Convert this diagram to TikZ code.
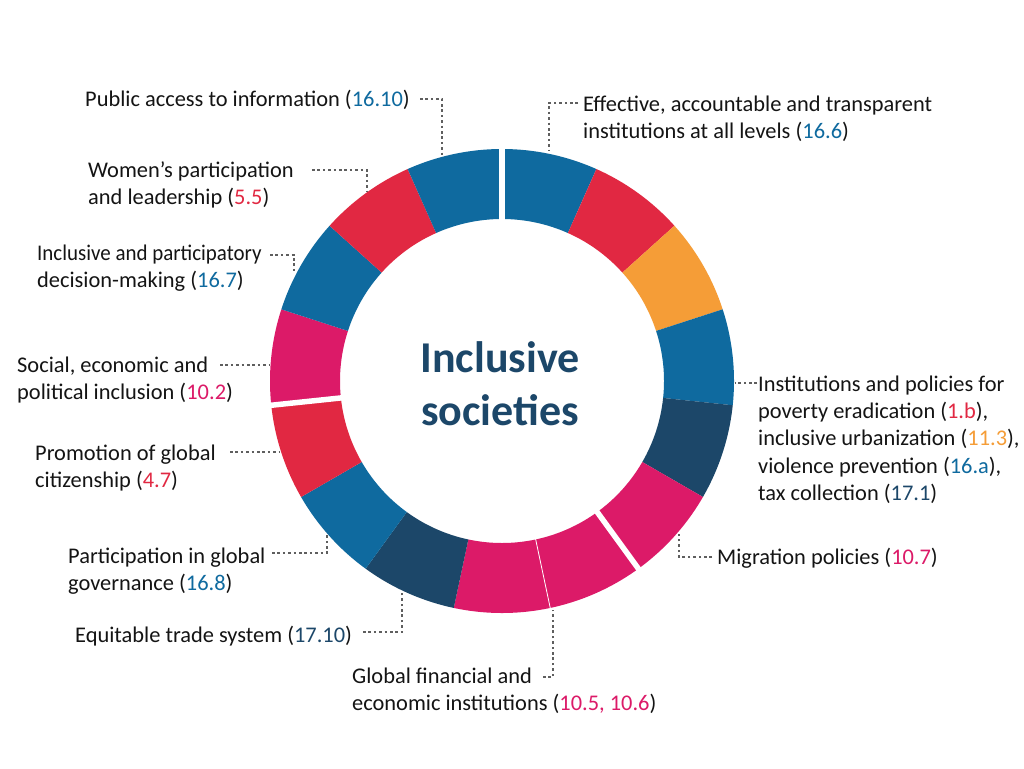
\documentclass[tikz,border=0pt]{standalone}
\usepackage{fontspec}
\setmainfont{Carlito}
\usepackage{graphicx}
\definecolor{sdgblue}{HTML}{0F6A9F}
\definecolor{sdgred}{HTML}{E12842}
\definecolor{sdgorange}{HTML}{F59D37}
\definecolor{sdgnavy}{HTML}{1C4769}
\definecolor{sdgmag}{HTML}{DC1A68}
\definecolor{leadgray}{HTML}{5E5E5E}
\newcommand{\cblue}[1]{\textcolor{sdgblue}{#1}}
\newcommand{\cred}[1]{\textcolor{sdgred}{#1}}
\newcommand{\corange}[1]{\textcolor{sdgorange}{#1}}
\newcommand{\cnavy}[1]{\textcolor{sdgnavy}{#1}}
\newcommand{\cmag}[1]{\textcolor{sdgmag}{#1}}
\newcommand{\topstrut}{\rule{0pt}{18pt}}
\begin{document}
\begin{tikzpicture}[x=1pt,y=-1pt,
  lbl/.style={anchor=north west, inner sep=0pt, align=left,
    font=\fontsize{22.4pt}{27.3pt}\selectfont, text=black!92},
  lead/.style={draw=leadgray, line width=2.6pt, dash pattern=on 2.6pt off 2.8pt},
  gap/.style={draw=white, line width=5.5pt},
  hair/.style={draw=white, line width=0.8pt}]
\useasboundingbox[fill=white] (0,0) rectangle (1024,768);

% ring
\begin{scope}[shift={(502,381)}, yscale=-1]
  \foreach \c [count=\i from 0] in {sdgblue,sdgred,sdgorange,sdgblue,sdgnavy,sdgmag,sdgmag,sdgmag,sdgnavy,sdgblue,sdgred,sdgmag,sdgblue,sdgred,sdgblue}{
    \pgfmathsetmacro\aa{90-24*\i}
    \pgfmathsetmacro\ab{90-24*(\i+1)}
    \fill[\c] (\aa:232) arc[start angle=\aa, end angle=\ab, radius=232]
      -- (\ab:162) arc[start angle=\ab, end angle=\aa, radius=162] -- cycle;
  }
  \coordinate (g1a) at (90:158);  \coordinate (g1b) at (90:236);
  \coordinate (g2a) at (-54:158); \coordinate (g2b) at (-54:236);
  \coordinate (g3a) at (186:158); \coordinate (g3b) at (186:236);
  \coordinate (h1a) at (-78:160); \coordinate (h1b) at (-78:234);
  \draw[gap] (g1a) -- (g1b);
  \draw[gap] (g2a) -- (g2b);
  \draw[gap] (g3a) -- (g3b);
  \draw[hair] (h1a) -- (h1b);
\end{scope}

% centre title
\node[font=\fontsize{44pt}{53.3pt}\selectfont\bfseries, text=sdgnavy, align=center, inner sep=0pt]
  (title) at (500,383.5) {Inclusive\\societies};

% labels
\node[lbl] (l1) at (85,88) {\topstrut Public access to information (\cblue{16.10})};
\node[lbl] (l2) at (583,93) {\topstrut Effective, accountable and transparent\\institutions at all levels (\cblue{16.6})};
\node[lbl] (l3) at (88,159) {\topstrut Women’s participation\\and leadership (\cred{5.5})};
\node[lbl] (l4) at (37,242) {\topstrut\scalebox{0.935}[1]{Inclusive and participatory}\\decision-making (\cblue{16.7})};
\node[lbl] (l5) at (17,354) {\topstrut Social, economic and\\political inclusion (\cmag{10.2})};
\node[lbl] (l6) at (35,442) {\topstrut Promotion of global\\citizenship (\cred{4.7})};
\node[lbl] (l7) at (68,545) {\topstrut Participation in global\\governance (\cblue{16.8})};
\node[lbl] (l8) at (75,624) {\topstrut Equitable trade system (\cnavy{17.10})};
\node[lbl] (l9) at (352,665) {\topstrut Global financial and\\economic institutions (\cmag{10.5, 10.6})};
\node[lbl] (l10) at (717,546) {\topstrut Migration policies (\cmag{10.7})};
\node[lbl] (l11) at (758,373) {\topstrut Institutions and policies for\\poverty eradication (\cred{1.b}),\\inclusive urbanization (\corange{11.3}),\\violence prevention (\cblue{16.a}),\\tax collection (\cnavy{17.1})};

% connector end points
\coordinate (s1) at (420,99);  \coordinate (e1) at (442,156);
\coordinate (s2) at (578,103); \coordinate (e2) at (549,151);
\coordinate (s3) at (312,170); \coordinate (e3) at (367,191);
\coordinate (s4) at (270,255); \coordinate (e4) at (294,274);
\coordinate (s5) at (220,365); \coordinate (e5) at (270,365);
\coordinate (s6) at (230,452); \coordinate (e6) at (280,452);
\coordinate (s7) at (272,553); \coordinate (e7) at (327,535);
\coordinate (s8) at (363,632); \coordinate (e8) at (402,592);
\coordinate (s9) at (543,677); \coordinate (e9) at (553,610);
\coordinate (s10) at (712,557); \coordinate (e10) at (679,534);
\coordinate (s11) at (757,383); \coordinate (e11) at (735,383);

\draw[lead] (s1) -| (e1);
\draw[lead] (s2) -| (e2);
\draw[lead] (s3) -| (e3);
\draw[lead] (s4) -| (e4);
\draw[lead] (s5) -- (e5);
\draw[lead] (s6) -- (e6);
\draw[lead] (s7) -| (e7);
\draw[lead] (s8) -| (e8);
\draw[lead] (s9) -| (e9);
\draw[lead] (s10) -| (e10);
\draw[lead] (s11) -- (e11);
\end{tikzpicture}
\end{document}
